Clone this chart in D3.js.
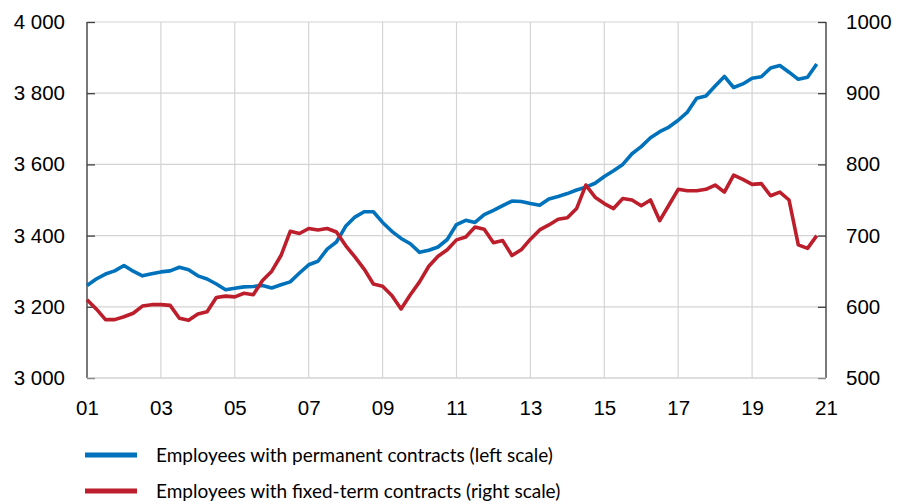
<!DOCTYPE html>
<html>
<head>
<meta charset="utf-8">
<script src="https://cdn.jsdelivr.net/npm/d3@7"></script>
<style>
  body { margin: 0; background: #fff; }
  svg { display: block; font-family: Lato, "Open Sans", sans-serif; }
  .eje text { font-size: 20.5px; fill: #000; }
  .leyenda text { font-size: 19px; fill: #000; }
</style>
</head>
<body>
<div id="graf"></div>
<script>
// Datos trimestrales 2001T1 - 2020T4 (miles de personas)
var inicio = 2001
var permanentes = [
  3260, 3278, 3292, 3301, 3316, 3300, 3287, 3293, 3298, 3301,
  3311, 3304, 3287, 3278, 3264, 3248, 3252, 3256, 3257, 3260,
  3253, 3262, 3270, 3295, 3318, 3328, 3362, 3382, 3426, 3452,
  3467, 3467, 3437, 3412, 3392, 3377, 3353, 3359, 3368, 3389,
  3431, 3443, 3437, 3459, 3471, 3484, 3497, 3496, 3490, 3485,
  3503, 3510, 3518, 3528, 3536, 3547, 3566, 3582, 3600, 3630,
  3650, 3675, 3692, 3705, 3724, 3747, 3786, 3792, 3820, 3847,
  3816, 3826, 3842, 3846, 3871, 3878, 3859, 3839, 3845, 3882
]
var temporales = [
  610, 597, 582, 582, 586, 591, 601, 603, 603, 602,
  584, 581, 590, 593, 613, 615, 614, 619, 617, 637,
  650, 672, 706, 703, 710, 708, 710, 705, 686, 670,
  653, 632, 629, 616, 597, 617, 635, 657, 671, 680,
  694, 698, 712, 709, 690, 693, 672, 680, 695, 708,
  715, 723, 725, 738, 771, 754, 745, 738, 752, 750,
  742, 750, 721, 743, 765, 763, 763, 765, 771, 761,
  785, 779, 772, 773, 756, 761, 750, 687, 682, 700
]
var ticksX = ['01', '03', '05', '07', '09', '11', '13', '15', '17', '19', '21']
var ticksIzq = [3000, 3200, 3400, 3600, 3800, 4000]
var ticksDer = [500, 600, 700, 800, 900, 1000]
var series = [
  { nombre: 'Employees with permanent contracts (left scale)', valores: permanentes, eje: 'izq', color: '#0072bb' },
  { nombre: 'Employees with fixed-term contracts (right scale)', valores: temporales, eje: 'der', color: '#bd1e2c' }
]

var ancho_total = 897, alto_total = 504
var margen = { superior: 22, izquierdo: 87, derecho: 71, inferior: 126 }
var ancho = ancho_total - margen.izquierdo - margen.derecho
var alto = alto_total - margen.superior - margen.inferior

var svg = d3.select('#graf').append('svg')
  .attr('width', ancho_total)
  .attr('height', alto_total)

var g = svg.append('g')
  .attr('transform', `translate(${ margen.izquierdo }, ${ margen.superior })`)

// escalas: x en trimestres desde 2001T1
var x = d3.scaleLinear().domain([0, 80]).range([0, ancho])
var yIzq = d3.scaleLinear().domain([3000, 4000]).range([alto, 0])
var yDer = d3.scaleLinear().domain([500, 1000]).range([alto, 0])

var fmtIzq = v => d3.format(',')(v).replace(',', ' ')

// rejilla
g.append('g').selectAll('line.h').data(ticksIzq).enter()
  .append('line')
  .attr('x1', 0).attr('x2', ancho)
  .attr('y1', d => yIzq(d)).attr('y2', d => yIzq(d))
  .attr('stroke', '#d4d4d4').attr('stroke-width', 1.2)
g.append('g').selectAll('line.v').data(ticksX).enter()
  .append('line')
  .attr('x1', (d, i) => x(i * 8)).attr('x2', (d, i) => x(i * 8))
  .attr('y1', 0).attr('y2', alto)
  .attr('stroke', '#d4d4d4').attr('stroke-width', 1.2)

// ejes
var ejeIzq = g.append('g').attr('class', 'eje')
  .call(d3.axisRight(yIzq).tickValues(ticksIzq).tickSize(8).tickFormat(fmtIzq))
ejeIzq.selectAll('text').attr('x', -22).attr('text-anchor', 'end')

var ejeDer = g.append('g').attr('class', 'eje')
  .attr('transform', `translate(${ ancho }, 0)`)
  .call(d3.axisLeft(yDer).tickValues(ticksDer).tickSize(8).tickFormat(d3.format('d')))
ejeDer.selectAll('text').attr('x', 20).attr('text-anchor', 'start')

var ejeX = g.append('g').attr('class', 'eje')
  .attr('transform', `translate(0, ${ alto })`)
  .call(d3.axisBottom(x).tickValues(d3.range(0, 81, 8)).tickSize(0)
    .tickFormat((d, i) => ticksX[i]))
ejeX.selectAll('text').attr('y', 22)

g.selectAll('.eje .tick line').attr('stroke', '#404040').attr('stroke-width', 1.3)
ejeIzq.select('.domain').attr('d', `M0,0V${ alto }`).attr('stroke', '#404040').attr('stroke-width', 1.3)
ejeDer.select('.domain').attr('d', `M0,0V${ alto }`).attr('stroke', '#404040').attr('stroke-width', 1.3)
ejeX.select('.domain').attr('d', `M0,0H${ ancho }`).attr('stroke', '#d4d4d4').attr('stroke-width', 1.2)

// lineas
series.forEach(s => {
  var esc = s.eje === 'izq' ? yIzq : yDer
  var linea = d3.line().x((d, i) => x(i)).y(d => esc(d))
  g.append('path')
    .datum(s.valores)
    .attr('d', linea)
    .attr('fill', 'none')
    .attr('stroke', s.color)
    .attr('stroke-width', 3.6)
    .attr('stroke-linejoin', 'round')
})

// leyenda
var leyenda = svg.append('g').attr('class', 'leyenda')
series.forEach((s, i) => {
  var yL = 455 + i * 36
  leyenda.append('line')
    .attr('x1', 85).attr('x2', 137)
    .attr('y1', yL).attr('y2', yL)
    .attr('stroke', s.color).attr('stroke-width', 5)
  leyenda.append('text')
    .attr('x', 156).attr('y', yL + 7)
    .text(s.nombre)
})
</script>
</body>
</html>
